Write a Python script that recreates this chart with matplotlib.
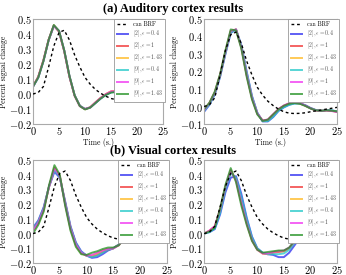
import numpy as np
import matplotlib
matplotlib.use('Agg')
import matplotlib.pyplot as plt
from matplotlib.ticker import FuncFormatter

plt.rcParams['font.family'] = 'serif'
plt.rcParams['font.serif'] = ['cmr10', 'Liberation Serif', 'DejaVu Serif']
plt.rcParams['mathtext.fontset'] = 'cm'
plt.rcParams['axes.unicode_minus'] = False

# tiempo (s.)
t = list(range(26))

# BRF canonica (linea punteada)
can_brf = [0.0, 0.01, 0.05, 0.18, 0.32, 0.41, 0.425, 0.36, 0.26, 0.18, 0.11, 0.065, 0.03,
           0.005, -0.015, -0.03, -0.038, -0.04, -0.039, -0.036, -0.03, -0.025, -0.02,
           -0.015, -0.01, -0.005]

etiquetas = [r'$[2], \epsilon = 0.4$', r'$[2], \epsilon = 1$', r'$[2], \epsilon = 1.43$',
             r'$[9], \epsilon = 0.4$', r'$[9], \epsilon = 1$', r'$[9], \epsilon = 1.43$']
colores = ['#2a2af0', '#f03030', '#ffb820', '#20c8c8', '#f030f0', '#209020']

# (a) corteza auditiva, panel izquierdo
aud_l_b = [0.05, 0.11, 0.22, 0.36, 0.455, 0.42, 0.29, 0.12, -0.01, -0.08, -0.10, -0.09, -0.06,
           -0.03, -0.005, 0.012, 0.015, 0.005, -0.01, -0.022, -0.032, -0.036, -0.033, -0.026, -0.018, -0.01]
aud_l_r = [0.05, 0.115, 0.225, 0.36, 0.455, 0.415, 0.285, 0.115, -0.012, -0.08, -0.10, -0.088, -0.055,
           -0.025, 0.0, 0.018, 0.02, 0.008, -0.008, -0.022, -0.033, -0.037, -0.033, -0.026, -0.018, -0.01]
aud_l_o = [0.052, 0.112, 0.222, 0.362, 0.458, 0.418, 0.288, 0.118, -0.01, -0.08, -0.102, -0.09, -0.058,
           -0.028, -0.003, 0.014, 0.017, 0.006, -0.01, -0.023, -0.033, -0.037, -0.034, -0.027, -0.018, -0.011]
aud_l_c = [0.048, 0.108, 0.218, 0.358, 0.455, 0.42, 0.29, 0.12, -0.008, -0.078, -0.1, -0.09, -0.06,
           -0.03, -0.006, 0.011, 0.014, 0.004, -0.011, -0.023, -0.032, -0.036, -0.033, -0.026, -0.019, -0.011]
aud_l_m = [0.05, 0.112, 0.222, 0.36, 0.456, 0.418, 0.287, 0.117, -0.011, -0.08, -0.101, -0.089, -0.057,
           -0.027, -0.002, 0.016, 0.018, 0.007, -0.009, -0.022, -0.032, -0.036, -0.033, -0.026, -0.018, -0.01]
aud_l_g = [0.05, 0.11, 0.22, 0.36, 0.46, 0.42, 0.29, 0.12, -0.01, -0.08, -0.103, -0.09, -0.06,
           -0.03, -0.006, 0.01, 0.013, 0.004, -0.011, -0.024, -0.034, -0.038, -0.034, -0.027, -0.019, -0.011]

# (a) corteza auditiva, panel derecho
aud_r_b = [-0.03, 0.01, 0.07, 0.17, 0.30, 0.42, 0.44, 0.35, 0.2, 0.06, -0.035, -0.085, -0.085, -0.06,
           -0.025, -0.005, 0.01, 0.018, 0.018, 0.008, -0.008, -0.02, -0.025, -0.02, -0.022, -0.028]
aud_r_r = [-0.02, 0.02, 0.08, 0.18, 0.31, 0.43, 0.44, 0.34, 0.18, 0.05, -0.04, -0.08, -0.075, -0.045,
           -0.015, 0.005, 0.018, 0.022, 0.018, 0.005, -0.01, -0.022, -0.025, -0.022, -0.025, -0.03]
aud_r_o = [-0.02, 0.018, 0.078, 0.178, 0.31, 0.43, 0.44, 0.34, 0.185, 0.05, -0.04, -0.082, -0.078, -0.048,
           -0.018, 0.003, 0.015, 0.02, 0.017, 0.005, -0.01, -0.021, -0.025, -0.022, -0.024, -0.029]
aud_r_c = [-0.025, 0.012, 0.072, 0.172, 0.302, 0.422, 0.44, 0.348, 0.195, 0.058, -0.036, -0.084, -0.083, -0.058,
           -0.024, -0.004, 0.01, 0.017, 0.017, 0.007, -0.009, -0.02, -0.025, -0.021, -0.022, -0.028]
aud_r_m = [-0.02, 0.02, 0.08, 0.18, 0.312, 0.432, 0.44, 0.338, 0.18, 0.048, -0.04, -0.08, -0.074, -0.044,
           -0.014, 0.006, 0.019, 0.023, 0.019, 0.006, -0.01, -0.022, -0.026, -0.023, -0.026, -0.031]
aud_r_g = [-0.015, 0.022, 0.085, 0.185, 0.32, 0.44, 0.435, 0.33, 0.17, 0.04, -0.045, -0.082, -0.075, -0.045,
           -0.016, 0.004, 0.016, 0.02, 0.016, 0.004, -0.011, -0.022, -0.025, -0.022, -0.024, -0.028]

# (b) corteza visual, panel izquierdo
vis_l_b = [0.04, 0.09, 0.18, 0.32, 0.42, 0.38, 0.22, 0.05, -0.06, -0.12, -0.15, -0.165, -0.16,
           -0.14, -0.115, -0.10, -0.075, -0.03, 0.01, 0.025, 0.02, 0.01, 0.008, 0.01, 0.008, 0.005]
vis_l_r = [0.03, 0.08, 0.17, 0.32, 0.44, 0.39, 0.21, 0.04, -0.07, -0.13, -0.15, -0.155, -0.145,
           -0.125, -0.11, -0.10, -0.075, -0.03, 0.01, 0.025, 0.03, 0.018, 0.005, 0.002, 0.002, 0.0]
vis_l_o = [0.02, 0.07, 0.16, 0.32, 0.45, 0.39, 0.2, 0.03, -0.08, -0.135, -0.15, -0.15, -0.135,
           -0.115, -0.105, -0.10, -0.08, -0.035, 0.01, 0.03, 0.035, 0.02, 0.005, -0.005, -0.005, -0.005]
vis_l_c = [0.03, 0.085, 0.175, 0.32, 0.43, 0.385, 0.21, 0.045, -0.065, -0.125, -0.15, -0.16, -0.15,
           -0.13, -0.11, -0.10, -0.075, -0.03, 0.012, 0.03, 0.03, 0.015, 0.01, 0.008, 0.006, 0.004]
vis_l_m = [0.02, 0.075, 0.165, 0.32, 0.445, 0.39, 0.2, 0.035, -0.075, -0.13, -0.15, -0.145, -0.13,
           -0.115, -0.105, -0.10, -0.08, -0.035, 0.01, 0.035, 0.035, 0.02, 0.005, 0.0, -0.002, -0.004]
vis_l_g = [0.0, 0.06, 0.15, 0.33, 0.465, 0.40, 0.19, 0.02, -0.09, -0.14, -0.145, -0.13, -0.12,
           -0.105, -0.095, -0.095, -0.08, -0.035, 0.015, 0.045, 0.04, 0.015, -0.01, -0.018, -0.012, -0.01]

# (b) corteza visual, panel derecho
vis_r_b = [0.0, 0.01, 0.03, 0.13, 0.28, 0.38, 0.39, 0.27, 0.11, -0.02, -0.1, -0.13, -0.14,
           -0.145, -0.16, -0.16, -0.13, -0.08, -0.03, 0.005, 0.02, 0.025, 0.02, 0.015, 0.012, 0.01]
vis_r_r = [0.0, 0.02, 0.05, 0.16, 0.31, 0.42, 0.37, 0.22, 0.08, -0.04, -0.105, -0.135, -0.14,
           -0.13, -0.125, -0.12, -0.1, -0.06, -0.02, 0.01, 0.025, 0.03, 0.025, 0.015, 0.008, 0.005]
vis_r_o = [0.0, 0.015, 0.045, 0.16, 0.32, 0.43, 0.36, 0.21, 0.07, -0.045, -0.11, -0.135, -0.14,
           -0.125, -0.12, -0.12, -0.1, -0.055, -0.02, 0.01, 0.025, 0.03, 0.025, 0.012, 0.002, -0.005]
vis_r_c = [0.0, 0.01, 0.035, 0.14, 0.3, 0.41, 0.38, 0.25, 0.1, -0.025, -0.1, -0.13, -0.14,
           -0.14, -0.14, -0.135, -0.11, -0.065, -0.025, 0.008, 0.022, 0.028, 0.022, 0.015, 0.01, 0.006]
vis_r_m = [0.0, 0.02, 0.05, 0.165, 0.32, 0.43, 0.36, 0.21, 0.07, -0.045, -0.11, -0.135, -0.135,
           -0.125, -0.12, -0.115, -0.095, -0.055, -0.015, 0.015, 0.03, 0.03, 0.02, 0.01, 0.0, -0.005]
vis_r_g = [0.0, 0.015, 0.04, 0.17, 0.33, 0.445, 0.35, 0.19, 0.06, -0.05, -0.11, -0.13, -0.125,
           -0.12, -0.115, -0.115, -0.095, -0.05, -0.01, 0.02, 0.035, 0.03, 0.015, 0.0, -0.015, -0.02]

paneles = [
    ([aud_l_b, aud_l_r, aud_l_o, aud_l_c, aud_l_m, aud_l_g], (-0.2, 0.5), [0.0954, 0.549, 0.376, 0.382], True),
    ([aud_r_b, aud_r_r, aud_r_o, aud_r_c, aud_r_m, aud_r_g], (-0.1, 0.5), [0.590, 0.549, 0.384, 0.382], True),
    ([vis_l_b, vis_l_r, vis_l_o, vis_l_c, vis_l_m, vis_l_g], (-0.2, 0.5), [0.0954, 0.0436, 0.387, 0.3745], False),
    ([vis_r_b, vis_r_r, vis_r_o, vis_r_c, vis_r_m, vis_r_g], (-0.2, 0.5), [0.590, 0.0436, 0.384, 0.3745], False),
]

fig = plt.figure(figsize=(3.46, 2.75), dpi=100)

for series, ylim, pos, con_xlabel in paneles:
    ax = fig.add_axes(pos)
    ax.plot(t, can_brf, color='black', linestyle=(0, (2, 2)), linewidth=1.0, label='can BRF', zorder=3)
    for y, c, lab in zip(series, colores, etiquetas):
        ax.plot(t, y, color=c, linewidth=1.4, alpha=0.75, label=lab, solid_joinstyle='round')
    ax.set_xlim(0, 25)
    ax.set_ylim(*ylim)
    ax.set_xticks([0, 5, 10, 15, 20, 25])
    ax.set_yticks(np.arange(ylim[0], 0.51, 0.1))
    ax.yaxis.set_major_formatter(FuncFormatter(lambda v, p: '$%.1f$' % v))
    ax.xaxis.set_major_formatter(FuncFormatter(lambda v, p: '$%d$' % v))
    ax.tick_params(length=0, labelsize=7.5, pad=1)
    for s in ax.spines.values():
        s.set_color('#aaaaaa')
        s.set_linewidth(0.8)
    ax.set_ylabel('Percent signal change', fontsize=5.5)
    ax.yaxis.set_label_coords(-0.19, 0.5)
    if con_xlabel:
        ax.set_xlabel('Time (s.)', fontsize=5.5)
        ax.xaxis.set_label_coords(0.5, -0.135)
    leg = ax.legend(loc='upper right', bbox_to_anchor=(1.04, 1.03), fontsize=4.2,
                    frameon=True, fancybox=False, edgecolor='#999999', framealpha=1,
                    handlelength=2.0, handletextpad=0.8, labelspacing=0.3, borderpad=0.45)
    leg.get_frame().set_linewidth(0.6)
    textos = leg.get_texts()
    textos[0].set_fontweight('bold')
    for tx in textos[1:]:
        tx.set_color('#555555')

fig.text(0.5, 1 - 9 / 275, '(a) Auditory cortex results', ha='center', va='center',
         fontsize=9, fontweight='bold', family='Liberation Serif')
fig.text(0.5, 1 - 150 / 275, '(b) Visual cortex results', ha='center', va='center',
         fontsize=9, fontweight='bold', family='Liberation Serif')

fig.savefig('out.png', dpi=100)
